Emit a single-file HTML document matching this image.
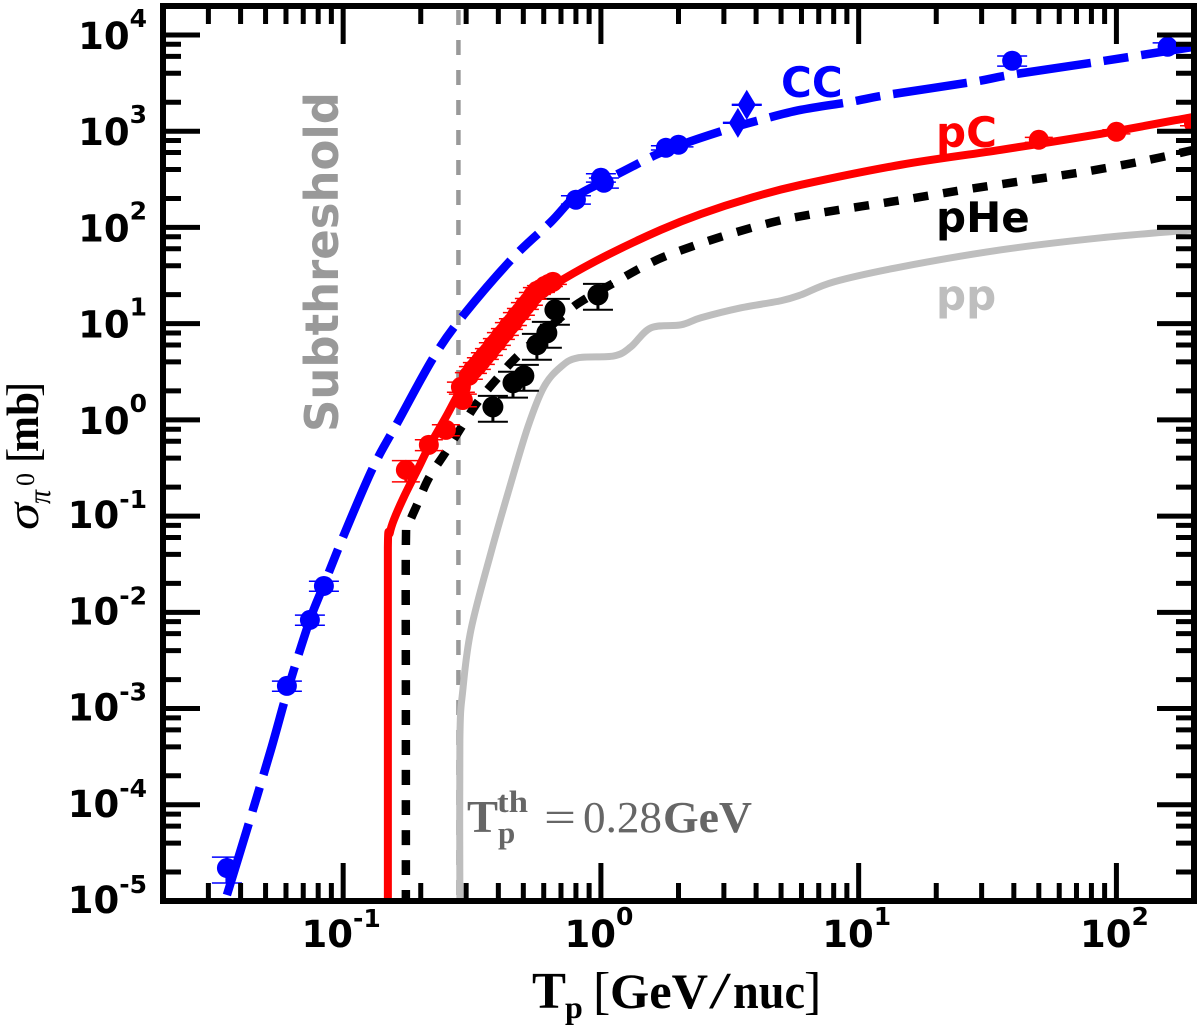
<!DOCTYPE html>
<html lang="en">
<head>
<meta charset="utf-8">
<title>Pi0 production cross section</title>
<style>
html,body{margin:0;padding:0;background:#fff;width:1200px;height:1030px;overflow:hidden}
svg{display:block;position:absolute;left:0;top:0}
.sans{font-family:"DejaVu Sans","Liberation Sans",sans-serif;font-weight:bold}
.serif{font-family:"Liberation Serif","DejaVu Serif",serif}
</style>
</head>
<body>
<svg id="chart" xmlns="http://www.w3.org/2000/svg" width="1200" height="1030" viewBox="0 0 1200 1030">
  <defs><clipPath id="plot-clip"><rect x="163" y="6" width="1031" height="895"/></clipPath></defs>
  <rect width="1200" height="1030" fill="#fff"/>
  <g id="marks" clip-path="url(#plot-clip)"></g>
  <g id="axes"></g>

  <text class="sans" font-size="46" fill="#999" transform="translate(338,432) rotate(-90)" textLength="340" lengthAdjust="spacingAndGlyphs">Subthreshold</text>
  <text class="sans" font-size="42" fill="#0000ff" x="781" y="97">CC</text>
  <text class="sans" font-size="42" fill="#ff0000" x="936" y="147">pC</text>
  <text class="sans" font-size="42" fill="#000" x="936" y="232">pHe</text>
  <text class="sans" font-size="42" fill="#bebebe" x="936" y="310">pp</text>

  <g class="serif" fill="#666">
    <text font-size="45" font-weight="bold" x="467" y="832" textLength="31" lengthAdjust="spacingAndGlyphs">T</text>
    <text font-size="31" font-weight="bold" x="497" y="812" textLength="31" lengthAdjust="spacingAndGlyphs">th</text>
    <text font-size="31" font-weight="bold" x="498" y="843">p</text>
    <text font-size="44" x="544" y="832" textLength="32" lengthAdjust="spacingAndGlyphs">=</text>
    <text font-size="44" x="583" y="832" textLength="79" lengthAdjust="spacingAndGlyphs">0.28</text>
    <text font-size="44" font-weight="bold" x="663" y="832" textLength="89" lengthAdjust="spacingAndGlyphs">GeV</text>
  </g>

  <g class="serif" fill="#000">
    <text font-size="52" font-weight="bold" x="532" y="1008" textLength="34" lengthAdjust="spacingAndGlyphs">T</text>
    <text font-size="32" font-weight="bold" x="565" y="1018">p</text>
    <text font-size="52" x="593" y="1008">[</text>
    <text font-size="50" font-weight="bold" x="610" y="1008" textLength="98" lengthAdjust="spacingAndGlyphs">GeV</text>
    <text font-size="52" x="709" y="1008" textLength="22" lengthAdjust="spacingAndGlyphs">/</text>
    <text font-size="50" font-weight="bold" x="733" y="1008" textLength="72" lengthAdjust="spacingAndGlyphs">nuc</text>
    <text font-size="52" x="804" y="1008">]</text>
  </g>

  <g class="serif" fill="#000" transform="translate(38,530) rotate(-90)">
    <text font-size="46" font-style="italic" x="0" y="0" textLength="27" lengthAdjust="spacingAndGlyphs">σ</text>
    <text font-size="32" font-style="italic" x="26" y="12" textLength="14" lengthAdjust="spacingAndGlyphs">π</text>
    <text font-size="26" x="44" y="-4">0</text>
    <text font-size="46" x="67" y="0">[</text>
    <text font-size="46" font-weight="bold" x="78" y="0" textLength="60" lengthAdjust="spacingAndGlyphs">mb</text>
    <text font-size="46" x="133" y="0">]</text>
  </g>
</svg>

<script>
// Axis limits
const xMin = 0.02;
const xMax = 200;
const yMin = 1e-5;
const yMax = 2e4;

// Tick definitions
const xTickExponents = [-1, 0, 1, 2];
const xMinorMantissas = [2, 3, 4, 5, 6, 7, 8, 9];
const xTickDecades = [-2, -1, 0, 1, 2];
const yTickExponents = [-5, -4, -3, -2, -1, 0, 1, 2, 3, 4];
const yMinorMantissas = [2, 4, 6, 8];

// Threshold
const thresholdT = 0.28;

// Model curves
const ccCurveT = [0.0354, 0.0431, 0.0524, 0.0616, 0.0743, 0.0842, 0.1007, 0.1304, 0.163, 0.2249, 0.294, 0.4556, 0.6397, 0.7855, 1, 1.228, 1.635, 2.044, 3.056, 4.177, 5.971, 9.335, 12.99, 28.0, 39.0, 84.8, 200];
const ccCurveSigma = [1.154e-5, 6.47e-5, 3.71e-4, 1.72e-3, 8.34e-3, 1.93e-2, 0.0638, 0.317, 0.953, 4.52, 12.4, 48.3, 114, 203, 291, 387, 569, 723, 1035, 1315, 1667, 2023, 2388, 3266, 3855, 5260, 7534];

const pcCurveT = [0.1491, 0.1491, 0.1491, 0.1517, 0.1573, 0.172, 0.1967, 0.215, 0.2503, 0.2863, 0.3422, 0.4597, 0.5851, 0.7184, 1.064, 1.709, 2.443, 3.82, 5.971, 14.6, 35.7, 87.1, 200];
const pcCurveSigma = [1e-5, 1.23e-3, 0.0467, 0.0668, 0.0914, 0.158, 0.324, 0.524, 1.07, 2.05, 3.92, 9.72, 19.9, 29.2, 51.9, 94.4, 138, 203, 277, 448, 641, 940, 1413];

const pheCurveT = [0.1751, 0.1751, 0.1751, 0.1783, 0.1949, 0.215, 0.2503, 0.2913, 0.3332, 0.3983, 0.4807, 0.7315, 0.8591, 1.143, 1.429, 1.836, 2.922, 4.568, 6.708, 15.0, 25.6, 43.8, 74.9, 128, 200];
const pheCurveSigma = [1e-5, 1.23e-3, 0.0502, 0.0773, 0.137, 0.249, 0.465, 0.887, 1.54, 2.74, 4.74, 12.9, 17.7, 27.2, 38.0, 51.9, 79.8, 112, 138, 194, 246, 305, 378, 492, 641];

const ppCurveT = [0.2837, 0.2837, 0.2913, 0.3131, 0.3742, 0.4395, 0.5208, 0.6009, 0.6995, 0.8143, 1.123, 1.307, 1.563, 2.044, 2.443, 3.494, 4.994, 5.971, 8.02, 14.6, 35.7, 87.1, 200];
const ppCurveSigma = [1e-5, 4.72e-4, 1.56e-3, 6.56e-3, 0.0414, 0.187, 0.845, 2.2, 3.56, 4.42, 4.62, 5.74, 9.04, 9.72, 11.5, 14.6, 17.3, 19.9, 27.2, 38.9, 58.5, 78.0, 94.4];

// Measurements (relative error in *Err arrays)
const ccDataT = [0.0354, 0.0605, 0.0743, 0.0842, 0.80, 1, 1.027, 1.787, 2.0, 39.4, 158];
const ccDataSigma = [2.2e-5, 1.72e-3, 8.34e-3, 0.0188, 194, 328, 291, 672, 723, 5395, 7534];
const ccDataErr = [0.3, 0.12, 0.12, 0.12, 0.1, 0.1, 0.12, 0.05, 0.05, 0.12, 0.1];

const ccDiamondT = [3.68, 3.40];
const ccDiamondSigma = [1880, 1222];
const ccDiamondErr = [0.01, 0.01];

const pcDataT = [0.1751, 0.215, 0.2503, 0.2863, 0.2913, 0.3074, 0.3188, 0.3302, 0.3422, 0.3547, 0.3677, 0.3809, 0.3948, 0.4093, 0.4242, 0.4395, 0.4556, 0.4721, 0.4893, 0.5071, 0.5255, 0.5446, 0.5645, 0.5851, 0.6063, 0.6284, 0.6512, 50, 100, 200];
const pcDataSigma = [0.302, 0.55, 0.787, 2.2, 1.61, 2.87, 3.31, 3.64, 4.1, 4.62, 5.09, 5.87, 6.47, 7.46, 8.22, 9.48, 10.4, 12.05, 13.3, 15.3, 16.9, 19.5, 21.9, 23.0, 24.7, 25.9, 27.2, 814, 986, 1200];
const pcDataErr = [0.25, 0.13, 0.13, 0.12, 0.15, 0.08, 0.08, 0.08, 0.08, 0.08, 0.08, 0.08, 0.08, 0.08, 0.08, 0.08, 0.08, 0.08, 0.08, 0.08, 0.08, 0.08, 0.08, 0.08, 0.06, 0.06, 0.06, 0.06, 0.05, 0.05];

const pheDataT = [0.381, 0.456, 0.5025, 0.5645, 0.617, 0.663, 0.974];
const pheDataSigma = [1.365, 2.43, 2.87, 6.03, 8.02, 13.9, 19.9];
const pheDataErr = [0.3, 0.3, 0.3, 0.3, 0.3, 0.3, 0.3];

const SVG_NS = 'http://www.w3.org/2000/svg';
const marks = document.getElementById('marks');
const axes = document.getElementById('axes');

// Axis functions
const plotLeft = 163;
const plotRight = 1194;
const plotTop = 6;
const plotBottom = 901;
function xScale(v) {
  return plotLeft + (Math.log10(v) - Math.log10(xMin)) / (Math.log10(xMax) - Math.log10(xMin)) * (plotRight - plotLeft);
}
function yScale(v) {
  return plotBottom - (Math.log10(v) - Math.log10(yMin)) / (Math.log10(yMax) - Math.log10(yMin)) * (plotBottom - plotTop);
}

function create(tag, parent, attrs) {
  const el = document.createElementNS(SVG_NS, tag);
  for (const k in attrs) el.setAttribute(k, attrs[k]);
  parent.appendChild(el);
  return el;
}

// Smooth path through the data (Catmull-Rom in screen space)
function smoothPath(ts, vs) {
  const p = ts.map((t, i) => [xScale(t), yScale(vs[i])]);
  let d = 'M' + p[0][0].toFixed(2) + ' ' + p[0][1].toFixed(2);
  for (let i = 0; i < p.length - 1; i++) {
    const a = p[Math.max(i - 1, 0)], b = p[i], c = p[i + 1], e = p[Math.min(i + 2, p.length - 1)];
    const c1x = b[0] + (c[0] - a[0]) / 6, c1y = b[1] + (c[1] - a[1]) / 6;
    const c2x = c[0] - (e[0] - b[0]) / 6, c2y = c[1] - (e[1] - b[1]) / 6;
    d += 'C' + c1x.toFixed(2) + ' ' + c1y.toFixed(2) + ' ' + c2x.toFixed(2) + ' ' + c2y.toFixed(2) + ' ' + c[0].toFixed(2) + ' ' + c[1].toFixed(2);
  }
  return d;
}

function drawCurve(name, ts, vs, color, width, dash, offset) {
  const attrs = { d: smoothPath(ts, vs), fill: 'none', stroke: color, 'stroke-width': width, 'stroke-linejoin': 'round' };
  if (dash) { attrs['stroke-dasharray'] = dash; attrs['stroke-dashoffset'] = offset || 0; }
  const el = create('path', marks, attrs);
  
  
}

function drawErrors(ts, vs, errs, color, name, capHalf, capWidth) {
  ts.forEach((t, i) => {
    const cx = xScale(t);
    const top = yScale(vs[i] * (1 + errs[i]));
    const bot = yScale(vs[i] * (1 - errs[i]));
    const g = create('g', marks, { stroke: color });
    
    
    create('line', g, { x1: cx, x2: cx, y1: top, y2: bot, 'stroke-width': 3 });
    create('line', g, { x1: cx - capHalf, x2: cx + capHalf, y1: top, y2: top, 'stroke-width': capWidth });
    create('line', g, { x1: cx - capHalf, x2: cx + capHalf, y1: bot, y2: bot, 'stroke-width': capWidth });
  });
}

function drawCircles(ts, vs, color, r, name) {
  ts.forEach((t, i) => {
    const c = create('circle', marks, { cx: xScale(t), cy: yScale(vs[i]), r: r, fill: color });
    
    
  });
}

function drawDiamonds(ts, vs, color, name) {
  ts.forEach((t, i) => {
    const x = xScale(t), y = yScale(vs[i]);
    const pts = [[x, y - 15], [x + 9, y], [x, y + 15], [x - 9, y]].map(q => q.join(',')).join(' ');
    const c = create('polygon', marks, { points: pts, fill: color });
    
    
  });
}

// Threshold line
const thresholdLine = create('line', marks, { x1: xScale(thresholdT), x2: xScale(thresholdT), y1: plotTop, y2: plotBottom, stroke: '#999', 'stroke-width': 4.5, 'stroke-dasharray': '15 15', 'stroke-dashoffset': 26 });



// Series
drawCurve('pp-curve', ppCurveT, ppCurveSigma, '#bebebe', 7);
drawCurve('phe-curve', pheCurveT, pheCurveSigma, '#000', 8.5, '15 15', 4);
drawErrors(pheDataT, pheDataSigma, pheDataErr, '#000', 'phe-error-bar', 15, 2);
drawCircles(pheDataT, pheDataSigma, '#000', 10.5, 'phe-data-point');
drawCurve('pc-curve', pcCurveT, pcCurveSigma, '#ff0000', 8);
drawErrors(pcDataT, pcDataSigma, pcDataErr, '#ff0000', 'pc-error-bar', 14, 1.5);
drawCircles(pcDataT, pcDataSigma, '#ff0000', 10, 'pc-data-point');
drawCurve('cc-curve', ccCurveT, ccCurveSigma, '#0000ff', 8.5, '74.5 13 25 13', 0);
drawErrors(ccDataT, ccDataSigma, ccDataErr, '#0000ff', 'cc-error-bar', 15, 1.5);
drawCircles(ccDataT, ccDataSigma, '#0000ff', 10, 'cc-data-point');
drawErrors(ccDiamondT, ccDiamondSigma, ccDiamondErr, '#0000ff', 'cc-diamond-error-bar', 15, 1.5);
drawDiamonds(ccDiamondT, ccDiamondSigma, '#0000ff', 'cc-diamond-point');

// Ticks
function tickLine(x1, y1, x2, y2, name) {
  const l = create('line', axes, { x1: x1, y1: y1, x2: x2, y2: y2, stroke: '#000', 'stroke-width': 5 });
  
  
}

xTickExponents.forEach(e => {
  const x = xScale(Math.pow(10, e));
  tickLine(x, plotBottom, x, plotBottom - 38, 'x-major-tick');
  tickLine(x, plotTop, x, plotTop + 38, 'x-major-tick-top');
});
xTickDecades.forEach(e => {
  xMinorMantissas.forEach(m => {
    const v = m * Math.pow(10, e);
    if (v <= xMin || v >= xMax) return;
    const x = xScale(v);
    tickLine(x, plotBottom, x, plotBottom - 18, 'x-minor-tick');
    tickLine(x, plotTop, x, plotTop + 18, 'x-minor-tick-top');
  });
});
yTickExponents.forEach(e => {
  const y = yScale(Math.pow(10, e));
  tickLine(plotLeft, y, plotLeft + 37, y, 'y-major-tick');
  tickLine(plotRight, y, plotRight - 37, y, 'y-major-tick-right');
  yMinorMantissas.forEach(m => {
    const v = m * Math.pow(10, e);
    if (v >= yMax) return;
    const ym = yScale(v);
    tickLine(plotLeft, ym, plotLeft + 18, ym, 'y-minor-tick');
    tickLine(plotRight, ym, plotRight - 18, ym, 'y-minor-tick-right');
  });
});

// Tick labels
function powerLabel(x, y, anchor, exponent, name) {
  const t = create('text', axes, { x: x, y: y, 'text-anchor': anchor, 'font-size': 37, 'class': 'sans', fill: '#000' });
  
  
  const base = create('tspan', t, {});
  base.textContent = '10';
  const sup = create('tspan', t, { dy: exponent < 0 ? -20 : -22, 'font-size': 25 });
  sup.textContent = String(exponent);
}
xTickExponents.forEach(e => {
  powerLabel(xScale(Math.pow(10, e)) - 2, 947, 'middle', e, 'x-tick-label');
});
yTickExponents.forEach(e => {
  powerLabel(147, yScale(Math.pow(10, e)) + (e < 0 ? 12 : 14), 'end', e, 'y-tick-label');
});

// Frame
const frame = create('rect', axes, { x: plotLeft, y: plotTop, width: plotRight - plotLeft, height: plotBottom - plotTop, fill: 'none', stroke: '#000', 'stroke-width': 6 });


</script>
</body>
</html>
